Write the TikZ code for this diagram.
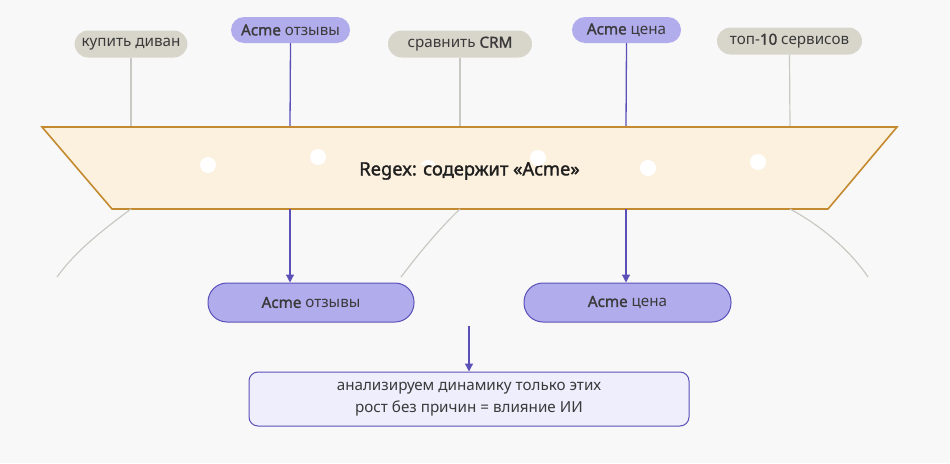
\documentclass[tikz,border=0pt]{standalone}
\usepackage{fontspec}
\setmainfont{Noto Sans}[BoldFont={Noto Sans}, BoldFeatures={FakeBold=1.6}]
\usetikzlibrary{arrows.meta}
\definecolor{bg}{HTML}{F8F8F8}
\definecolor{greypill}{HTML}{D8D6CB}
\definecolor{purplepill}{HTML}{B1ACEC}
\definecolor{purpleline}{HTML}{5A50B8}
\definecolor{greyline}{HTML}{C9C9C4}
\definecolor{funnelfill}{HTML}{FCF0DE}
\definecolor{funneldraw}{HTML}{C48A30}
\definecolor{notefill}{HTML}{EFEEFD}
\definecolor{txt}{HTML}{3A3A3A}
\tikzset{
  greytag/.style={fill=greypill, rounded corners=13.5pt, minimum height=27pt, inner xsep=7pt, inner ysep=0pt, font=\fontsize{15.2}{18}\selectfont, text=txt},
  purpletag/.style={fill=purplepill, rounded corners=13pt, minimum height=26pt, inner xsep=7pt, inner ysep=0pt, font=\fontsize{15.2}{18}\selectfont, text=txt},
  resultpill/.style={fill=purplepill, draw=purpleline, line width=1pt, rounded corners=19pt, minimum height=39pt, font=\fontsize{15.2}{18}\selectfont, text=txt},
  notebox/.style={fill=notefill, draw=purpleline, line width=1pt, rounded corners=9pt, minimum width=440pt, minimum height=54pt, align=center, font=\fontsize{15.2}{22}\selectfont, text=txt},
  greyconn/.style={draw=greyline, line width=1.2pt},
  purpleconn/.style={draw=purpleline, line width=1.3pt},
  purplearrow/.style={draw=purpleline, line width=1.3pt, -{Triangle[width=8pt,length=8pt]}},
  dot/.style={circle, fill=white, minimum size=16pt, inner sep=0pt},
}
\begin{document}
\begin{tikzpicture}[x=1pt,y=-1pt]
\fill[bg] (0,0) rectangle (950,463);
\useasboundingbox (0,0) rectangle (950,463);

% top tags
\node[greytag, minimum width=110pt] (t1) at (131,44) {купить диван};
\node[purpletag, minimum width=119pt] (t2) at (290.5,30) {\textbf{Acme} отзывы};
\node[greytag, minimum width=144pt] (t3) at (460,44) {сравнить \textbf{CRM}};
\node[purpletag, minimum width=109pt] (t4) at (626.5,30) {\textbf{Acme} цена};
\node[greytag, minimum width=145pt] (t5) at (789.5,41) {топ-\textbf{10} сервисов};

% funnel anchors
\coordinate (f1) at (131,127);
\coordinate (f2) at (290,127);
\coordinate (f3) at (460,127);
\coordinate (f4) at (626,127);
\coordinate (f5) at (790,127);
\coordinate (b1) at (131,209);
\coordinate (b2) at (290,209);
\coordinate (b3) at (460,209);
\coordinate (b4) at (626,209);
\coordinate (b5) at (790,209);
\coordinate (e1) at (57,277);
\coordinate (e3) at (401,277);
\coordinate (e5) at (868,277);

\draw[greyconn] (t1.south) -- (f1);
\draw[purpleconn] (t2.south) -- (f2);
\draw[greyconn] (t3.south) -- (f3);
\draw[purpleconn] (t4.south) -- (f4);
\draw[greyconn] (t5.south) -- (f5);

% funnel
\draw[fill=funnelfill, draw=funneldraw, line width=1.6pt, line join=miter]
  (42,127) -- (897,127) -- (828,209) -- (112,209) -- cycle;

\node[font=\fontsize{18.3}{22}\selectfont, text=black!88] (rx) at (469.5,171) {\textbf{Regex: содержит «Acme»}};

% dots (the one behind the text only shows above the letters)
\node[dot] (d1) at (208,165) {};
\node[dot] (d2) at (318,157) {};
\begin{scope}
  \clip (410,145) rectangle (450,164.5);
  \node[dot] (d3) at (428,168) {};
\end{scope}
\node[dot] (d4) at (538,158) {};
\node[dot] (d5) at (648,168) {};
\node[dot] (d6) at (758,162) {};

% grey tails
\draw[greyconn] (b1) .. controls (100,232) and (75,252) .. (e1);
\draw[greyconn] (b3) .. controls (440,228) and (420,252) .. (e3);
\draw[greyconn] (b5) .. controls (820,225) and (850,250) .. (e5);

% results
\node[resultpill, minimum width=206pt] (r1) at (311,302.5) {\textbf{Acme} отзывы};
\node[resultpill, minimum width=207pt] (r2) at (627.5,302.5) {\textbf{Acme} цена};
\draw[purplearrow] (b2) -- (b2 |- r1.north);
\draw[purplearrow] (b4) -- (b4 |- r2.north);

% note
\coordinate (na) at (469,326);
\node[notebox] (n) at (469,399) {анализируем динамику только этих\\рост без причин = влияние ИИ};
\draw[purplearrow] (na) -- (n.north);
\end{tikzpicture}
\end{document}
